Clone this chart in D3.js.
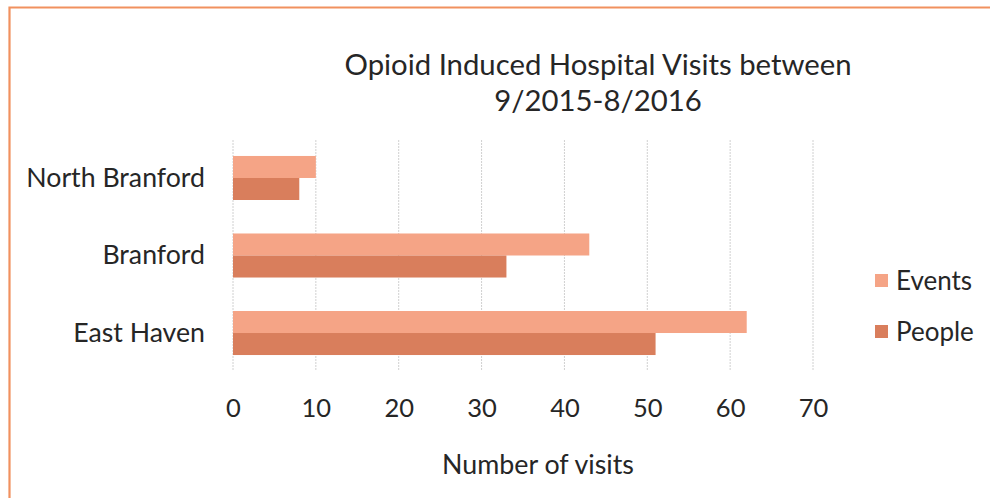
<!DOCTYPE html>
<html>
<head>
<meta charset="utf-8">
<script src="https://cdn.jsdelivr.net/npm/d3@7"></script>
<style>
  html, body { margin: 0; padding: 0; background: #ffffff; }
  svg { display: block; }
  text { font-family: Lato, "Open Sans", sans-serif; fill: #262626; }
</style>
</head>
<body>
<svg id="chart" width="990" height="498"></svg>
<script>
const categories = ["North Branford", "Branford", "East Haven"];
const seriesNames = ["Events", "People"];
const events = [10, 43, 62];
const people = [8, 33, 51];
const xTicks = [0, 10, 20, 30, 40, 50, 60, 70];
const titleLines = ["Opioid Induced Hospital Visits between", "9/2015-8/2016"];
const xTitle = "Number of visits";
const colors = ["#F5A486", "#D97E5C"];

const svg = d3.select("#chart");
const W = 990, H = 498;

svg.append("rect").attr("width", W).attr("height", H).attr("fill", "#fff");

// border (left and top only visible)
svg.append("path")
  .attr("d", `M9.5,${H} L9.5,7.5 L${W},7.5`)
  .attr("fill", "none").attr("stroke", "#F1915F").attr("stroke-width", 2.2);

const x = d3.scaleLinear().domain([0, 70]).range([233, 813]);
const y = d3.scaleBand().domain(categories).range([140, 371])
  .paddingInner(0.432).paddingOuter(0.206);
const ySub = d3.scaleBand().domain(seriesNames).range([0, y.bandwidth()]);

// gridlines
svg.append("g").selectAll("line").data(xTicks).join("line")
  .attr("x1", d => x(d)).attr("x2", d => x(d))
  .attr("y1", 140).attr("y2", 371)
  .attr("stroke", "#D0D0D0").attr("stroke-width", 1)
  .attr("stroke-dasharray", "2,1");

const data = categories.map((c, i) => ({ cat: c, vals: [events[i], people[i]] }));

const groups = svg.append("g").selectAll("g").data(data).join("g")
  .attr("transform", d => `translate(0,${y(d.cat)})`);
groups.selectAll("rect").data(d => d.vals.map((v, j) => ({ v, s: seriesNames[j], j })))
  .join("rect")
  .attr("x", x(0))
  .attr("y", d => ySub(d.s))
  .attr("width", d => x(d.v) - x(0))
  .attr("height", ySub.bandwidth())
  .attr("fill", d => colors[d.j]);

// x axis tick labels
const xAxis = d3.axisBottom(x).tickValues(xTicks).tickSize(0).tickPadding(0);
const gx = svg.append("g").attr("transform", "translate(0,399)").call(xAxis);
gx.select(".domain").remove();
gx.selectAll("text").attr("font-size", 25.5).attr("dy", "0.71em")
  .style("font-family", "Lato, 'Open Sans', sans-serif").attr("fill", "#262626");

// y axis labels
const yAxis = d3.axisLeft(y).tickSize(0).tickPadding(0);
const gy = svg.append("g").attr("transform", "translate(205,0)").call(yAxis);
gy.select(".domain").remove();
gy.selectAll("text").attr("font-size", 26.7)
  .style("font-family", "Lato, 'Open Sans', sans-serif").attr("fill", "#262626");

// title
svg.append("g").selectAll("text").data(titleLines).join("text")
  .attr("x", 598).attr("y", (d, i) => 75 + i * 36)
  .attr("text-anchor", "middle").attr("font-size", 29.3)
  .text(d => d);

// x title
svg.append("text").attr("x", 538).attr("y", 474)
  .attr("text-anchor", "middle").attr("font-size", 26.8).text(xTitle);

// legend
const leg = svg.append("g").selectAll("g").data(seriesNames).join("g")
  .attr("transform", (d, i) => `translate(875,${281 + i * 51})`);
leg.append("rect").attr("x", 0).attr("y", -7).attr("width", 13).attr("height", 13)
  .attr("fill", (d, i) => colors[i]);
leg.append("text").attr("x", 21).attr("y", 0).attr("dy", "0.35em")
  .attr("font-size", 26).text(d => d);
</script>
</body>
</html>
